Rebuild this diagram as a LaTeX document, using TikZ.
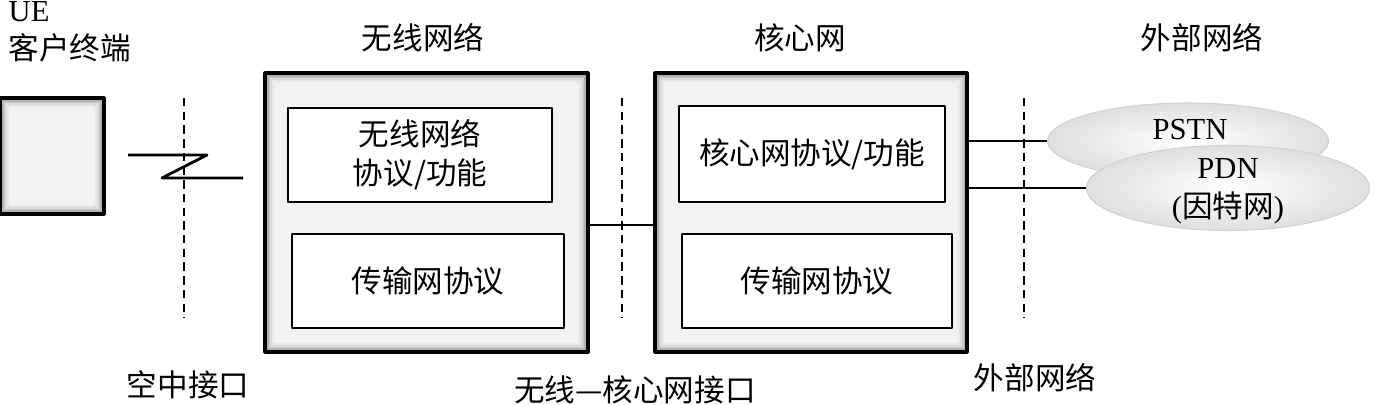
\documentclass[tikz,border=0pt]{standalone}
\usepackage{fontspec}
\setmainfont{Liberation Serif}
\newfontfamily\cjk{Noto Sans CJK SC}
\usetikzlibrary{shapes.geometric}

\tikzset{
  bevel/.style={draw=black,line width=0.9pt,path picture={
      \foreach \d/\g in {0/40,0.5/30,1.0/21,1.5/14,2.0/9,2.5/5}
        \fill[black!\g] ([shift={(\d pt,-\d pt)}]path picture bounding box.north west)
          rectangle ([shift={(-\d pt,\d pt)}]path picture bounding box.south east);}},
  inbox/.style={draw=black,fill=white,line width=0.7pt,minimum height=9.4mm,align=center},
  netell/.style={ellipse,draw=gray!35,line width=0.3pt,inner color=white,outer color=gray!25},
  dashline/.style={line width=0.75pt,dash pattern=on 2.4pt off 1.5pt},
  conn/.style={line width=0.65pt},
  txt/.style={font=\fontsize{8.7}{11}\selectfont,inner sep=0pt}
}

\begin{document}
\begin{tikzpicture}[x=0.1mm,y=-0.1mm,line join=round,font=\fontsize{8.7}{11}\selectfont]
  \useasboundingbox (0,0) rectangle (1388,405);

  % terminal
  \node[bevel,minimum width=10.4mm,minimum height=11.6mm] (ue) at (52,156) {};
  \node[txt,anchor=base west] (uelbl) at (8,22) {UE};
  \node[txt,anchor=west] (uename) at (8,48) {\cjk 客户终端};

  % air interface
  \draw[dashline] (184,98) -- (184,318);
  \draw[conn,line width=0.8pt] (128,155) -- (207,155) -- (162,178) -- (243,178);
  \node[txt] (airlbl) at (188,385) {\cjk 空中接口};

  % radio network
  \node[bevel,minimum width=32.3mm,minimum height=27.9mm] (ran) at (426.5,212.5) {};
  \node[inbox,minimum width=26.4mm] (ranfn) at (420,155) {\cjk 无线网络\\\cjk 协议/功能};
  \node[inbox,minimum width=27.2mm] (rantp) at (428,281) {\cjk 传输网协议};
  \node[txt] (rantitle) at (423,38) {\cjk 无线网络};

  % core network
  \node[bevel,minimum width=31.2mm,minimum height=27.9mm] (core) at (811,212.5) {};
  \node[inbox,minimum width=26.6mm,minimum height=9.6mm] (corefn) at (812,154) {\cjk 核心网协议/功能};
  \node[inbox,minimum width=27.0mm] (coretp) at (817,281) {\cjk 传输网协议};
  \node[txt] (coretitle) at (800,38) {\cjk 核心网};

  % radio -- core interface
  \draw[dashline] (622,98) -- (622,318);
  \coordinate (iu) at (0,225);
  \draw[conn] (ran.east |- iu) -- (core.west |- iu);
  \node[txt] (iulbl) at (635,390) {\cjk 无线—核心网接口};

  % external networks
  \draw[dashline] (1024,98) -- (1024,318);
  \node[netell,minimum width=28.1mm,minimum height=7.6mm] (pstn) at (1188,141) {};
  \node[netell,minimum width=28.3mm,minimum height=8.5mm] (pdn) at (1228,188) {};
  \draw[conn] (core.east |- pstn.west) -- (pstn.west);
  \draw[conn] (core.east |- pdn.west) -- (pdn.west);
  \node[txt] (pstnlbl) at (1190,130) {PSTN};
  \node[txt,align=center] (pdnlbl) at (1228,191) {PDN\\({\cjk 因特网})};
  \node[txt] (exttitle) at (1202,38) {\cjk 外部网络};
  \node[txt] (extlbl) at (1035,378) {\cjk 外部网络};
\end{tikzpicture}
\end{document}
